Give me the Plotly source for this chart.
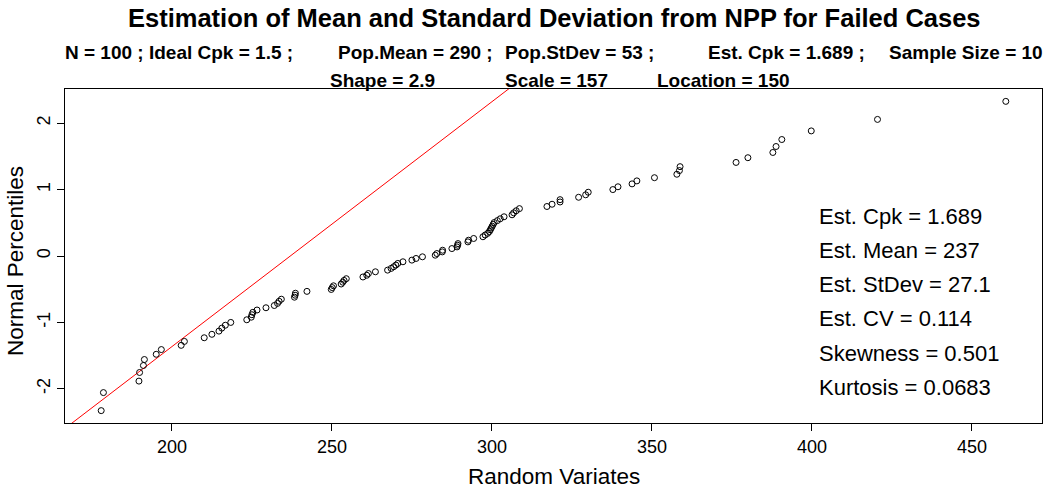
import plotly.graph_objects as go

# Sorted random variates (failed cases)
variates = [
    177.9, 178.6, 189.7, 189.9, 191.1, 191.4, 195.1, 196.7, 202.9, 203.9,
    210.1, 212.5, 214.7, 215.6, 216.7, 218.4, 223.4, 224.8, 225.0, 225.3,
    226.6, 229.4, 232.0, 233.0, 233.5, 234.2, 238.3, 238.5, 238.6, 242.2,
    249.8, 250.1, 250.5, 252.9, 253.4, 253.8, 254.5, 259.7, 260.9, 261.4,
    263.6, 267.4, 268.5, 269.3, 270.0, 270.6, 272.2, 275.0, 276.3, 278.3,
    282.3, 282.8, 284.5, 284.6, 287.5, 289.1, 289.3, 289.4, 292.5, 292.7,
    294.3, 297.2, 297.9, 298.7, 299.2, 299.5, 299.8, 300.1, 300.4, 300.7,
    301.7, 302.6, 303.8, 306.3, 306.8, 307.6, 308.6, 317.2, 318.8, 321.3,
    321.3, 327.1, 329.3, 330.1, 337.8, 339.4, 343.8, 345.3, 350.8, 357.8,
    358.6, 358.8, 376.3, 380.0, 387.8, 388.8, 390.6, 399.8, 420.5, 460.6,
]

# Normal percentiles (plotting positions i/(n+1))
lower_half = [
    -2.330, -2.058, -1.885, -1.755, -1.650, -1.560, -1.481, -1.410, -1.346, -1.287,
    -1.232, -1.180, -1.132, -1.087, -1.043, -1.001, -0.961, -0.922, -0.885, -0.849,
    -0.814, -0.780, -0.746, -0.714, -0.682, -0.651, -0.621, -0.591, -0.561, -0.533,
    -0.504, -0.476, -0.449, -0.422, -0.395, -0.368, -0.342, -0.316, -0.290, -0.264,
    -0.238, -0.213, -0.187, -0.162, -0.137, -0.112, -0.087, -0.062, -0.037, -0.012,
]
upper_half = [
    0.012, 0.037, 0.062, 0.087, 0.112, 0.137, 0.162, 0.187, 0.213, 0.238,
    0.264, 0.290, 0.316, 0.342, 0.368, 0.395, 0.422, 0.449, 0.476, 0.504,
    0.533, 0.561, 0.591, 0.621, 0.651, 0.682, 0.714, 0.746, 0.780, 0.814,
    0.849, 0.885, 0.922, 0.961, 1.001, 1.043, 1.087, 1.132, 1.180, 1.232,
    1.287, 1.346, 1.410, 1.481, 1.560, 1.650, 1.755, 1.885, 2.058, 2.330,
]
percentiles = lower_half + upper_half

# Estimates shown in the text block
est_mean = 237
est_sd = 27.1
stats_lines = [
    "Est. Cpk = 1.689",
    "Est. Mean = 237",
    "Est. StDev = 27.1",
    "Est. CV = 0.114",
    "Skewness = 0.501",
    "Kurtosis = 0.0683",
]

x_ticks = [200, 250, 300, 350, 400, 450]
y_ticks = [-2, -1, 0, 1, 2]

# Axis ranges padded by 4% like base R graphics
xmin, xmax = min(variates), max(variates)
xpad = 0.04 * (xmax - xmin)
x_range = [xmin - xpad, xmax + xpad]
ymin, ymax = min(percentiles), max(percentiles)
ypad = 0.04 * (ymax - ymin)
y_range = [ymin - ypad, ymax + ypad]

FONT = "Liberation Sans, Arial, sans-serif"

# Plot-area geometry in pixels
W, H = 1043, 489
L, R, T, B = 65, 1, 89, 66
pw, ph = W - L - R, H - T - B


def px(xp):
    return (xp - L) / pw


def py(yp):
    return (H - B - yp) / ph


fig = go.Figure()

# Fitted normal line: percentile = (x - mean) / sd
line_x = [x_range[0] - 20, x_range[1] + 20]
line_y = [(v - est_mean) / est_sd for v in line_x]
fig.add_trace(go.Scatter(
    x=line_x, y=line_y, mode="lines",
    line=dict(color="#ff0000", width=1), hoverinfo="skip",
))

fig.add_trace(go.Scatter(
    x=variates, y=percentiles, mode="markers",
    marker=dict(symbol="circle-open", size=6, color="black", line=dict(width=1)),
))

annotations = []

annotations.append(dict(
    text="<b>Estimation of Mean and Standard Deviation from NPP for Failed Cases</b>",
    x=px(554), y=py(18), xref="paper", yref="paper",
    xanchor="center", yanchor="middle", showarrow=False,
    font=dict(family=FONT, size=25.5, color="black"),
))

sub1 = [
    ("N = 100 ; Ideal Cpk = 1.5 ;", 63),
    ("Pop.Mean = 290 ;", 336),
    ("Pop.StDev = 53 ;", 503),
    ("Est. Cpk = 1.689 ;", 706),
    ("Sample Size = 10", 887),
]
for txt, xpos in sub1:
    annotations.append(dict(
        text="<b>" + txt + "</b>", x=px(xpos), y=py(52),
        xref="paper", yref="paper", xanchor="left", yanchor="middle",
        showarrow=False, font=dict(family=FONT, size=19, color="black"),
    ))

sub2 = [("Shape = 2.9", 328), ("Scale = 157", 503), ("Location = 150", 655)]
for txt, xpos in sub2:
    annotations.append(dict(
        text="<b>" + txt + "</b>", x=px(xpos), y=py(80),
        xref="paper", yref="paper", xanchor="left", yanchor="middle",
        showarrow=False, font=dict(family=FONT, size=19, color="black"),
    ))

for k, txt in enumerate(stats_lines):
    annotations.append(dict(
        text=txt, x=px(817), y=py(216 + k * 34.3),
        xref="paper", yref="paper", xanchor="left", yanchor="middle",
        showarrow=False, font=dict(family=FONT, size=22, color="black"),
    ))

annotations.append(dict(
    text="Random Variates", x=px(554), y=py(476),
    xref="paper", yref="paper", xanchor="center", yanchor="middle",
    showarrow=False, font=dict(family=FONT, size=22.5, color="black"),
))
annotations.append(dict(
    text="Normal Percentiles", x=px(15), y=py(261),
    xref="paper", yref="paper", xanchor="center", yanchor="middle",
    textangle=-90, showarrow=False, font=dict(family=FONT, size=22.5, color="black"),
))

fig.update_layout(
    width=W, height=H,
    margin=dict(l=L, r=R, t=T, b=B),
    paper_bgcolor="white", plot_bgcolor="white",
    showlegend=False,
    annotations=annotations,
    font=dict(family=FONT, color="black"),
    xaxis=dict(
        range=x_range, tickvals=x_ticks, ticktext=[str(v) for v in x_ticks],
        showgrid=False, zeroline=False, showline=True, linecolor="black",
        linewidth=1, mirror=True, ticks="outside", ticklen=7, tickcolor="black",
        tickfont=dict(family=FONT, size=18, color="black"),
    ),
    yaxis=dict(
        range=y_range, tickvals=y_ticks, ticktext=[str(v) for v in y_ticks],
        showgrid=False, zeroline=False, showline=True, linecolor="black",
        linewidth=1, mirror=True, ticks="outside", ticklen=7, tickcolor="black",
        tickangle=-90, tickfont=dict(family=FONT, size=18, color="black"),
    ),
)

fig.write_html("out.html")
